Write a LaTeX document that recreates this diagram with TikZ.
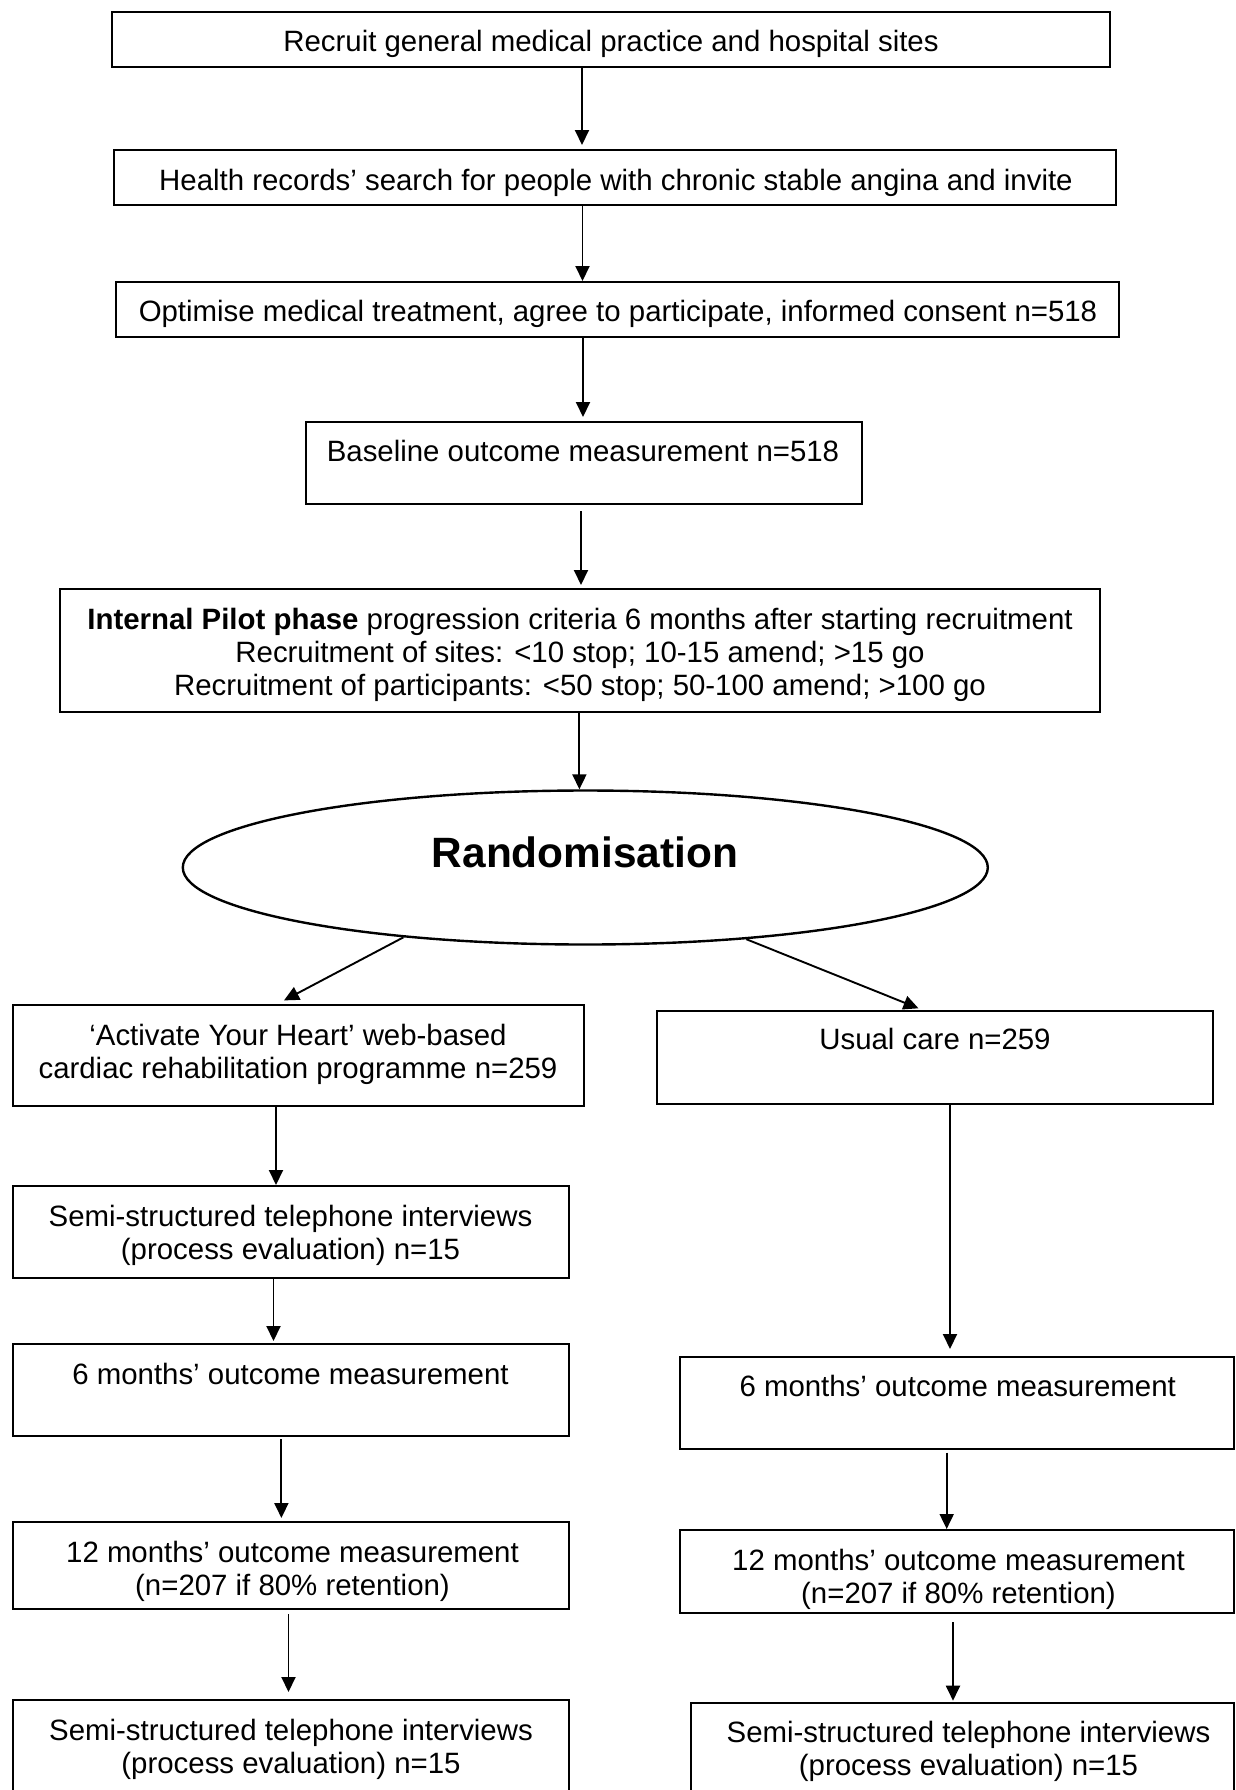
\documentclass[tikz,border=0pt]{standalone}
\usepackage{fontspec}
\setmainfont{Liberation Sans}
\usetikzlibrary{arrows.meta,shapes.geometric,calc}
\begin{document}
\begin{tikzpicture}[x=0.5pt,y=-0.5pt,
  box/.style={draw, line width=1pt, rectangle, inner sep=0pt},
  txt/.style={font=\fontsize{14.7}{16.5}\selectfont, align=center, inner sep=0pt},
  bigtxt/.style={font=\fontsize{21.2}{25}\selectfont\bfseries, inner sep=0pt},
  arr/.style={line width=0.95pt, -{Triangle[length=7.5pt,width=7pt]}},
]
\fill[white] (0,0) rectangle (1236,1790);
\useasboundingbox (0,0) rectangle (1236,1790);
\clip (0,0) rectangle (1236,1790);

% boxes
\node[box, minimum width=499pt, minimum height=27.5pt] (b1) at (611,39.5) {};
\node[box, minimum width=501pt, minimum height=27.5pt] (b2) at (615,177.5) {};
\node[box, minimum width=501.5pt, minimum height=27.5pt] (b3) at (617.5,309.5) {};
\node[box, minimum width=278pt, minimum height=41pt] (b4) at (584,463) {};
\node[box, minimum width=520pt, minimum height=61.5pt] (b5) at (580,650.5) {};
\node[draw, line width=1.2pt, ellipse, inner sep=0pt, minimum width=402.5pt, minimum height=77pt] (ell) at (585.3,867.5) {};
\node[box, minimum width=285.5pt, minimum height=50.5pt] (L1) at (298,1055.5) {};
\node[box, minimum width=278pt, minimum height=46.5pt] (R1) at (934.5,1057.5) {};
\node[box, minimum width=278pt, minimum height=46pt] (L2) at (290.5,1232) {};
\node[box, minimum width=278pt, minimum height=46pt] (L3) at (290.5,1390) {};
\node[box, minimum width=277pt, minimum height=46pt] (R3) at (957,1403) {};
\node[box, minimum width=278pt, minimum height=43.5pt] (L4) at (290.5,1565.5) {};
\node[box, minimum width=277.25pt, minimum height=41.5pt] (R4) at (956.75,1571.5) {};
\node[box, minimum width=278pt, minimum height=60pt] (L5) at (290.5,1760) {};
\node[box, minimum width=271.5pt, minimum height=60pt] (R5) at (962.5,1763) {};

% texts
\node[txt, anchor=base] (t1) at (611,51) {Recruit general medical practice and hospital sites};
\node[txt, anchor=base] (t2) at (616,190) {Health records’ search for people with chronic stable angina and invite};
\node[txt, anchor=base] (t3) at (618,321) {Optimise medical treatment, agree to participate, informed consent n=518};
\node[txt, anchor=base] (t4) at (583,461) {Baseline outcome measurement n=518};
\node[txt] (t5) at (580,655) {\textbf{Internal Pilot phase} progression criteria 6 months after starting recruitment\\Recruitment of sites: <10 stop; 10-15 amend; >15 go\\Recruitment of participants: <50 stop; 50-100 amend; >100 go};
\node[bigtxt, anchor=base] (tR) at (585,867) {Randomisation};
\node[txt] (tL1) at (298,1054) {‘Activate Your Heart’ web-based\\cardiac rehabilitation programme n=259};
\node[txt, anchor=base] (tR1) at (935,1049) {Usual care n=259};
\node[txt] (tL2) at (290.5,1235) {Semi-structured telephone interviews\\(process evaluation) n=15};
\node[txt, anchor=base] (tL3) at (290.5,1384) {6 months’ outcome measurement};
\node[txt, anchor=base] (tR3) at (957.7,1396) {6 months’ outcome measurement};
\node[txt] (tL4) at (292.5,1571) {12 months’ outcome measurement\\(n=207 if 80\% retention)};
\node[txt] (tR4) at (958.5,1579) {12 months’ outcome measurement\\(n=207 if 80\% retention)};
\node[txt] (tL5) at (291,1749) {Semi-structured telephone interviews\\(process evaluation) n=15};
\node[txt] (tR5) at (968.5,1751) {Semi-structured telephone interviews\\(process evaluation) n=15};

% connectors
\draw[arr] (582,0 |- b1.south) -- ($(582,0 |- b2.north)+(0,-4)$);
\draw[arr] (582.5,0 |- b2.south) -- (582.5,0 |- b3.north);
\draw[arr] (583,0 |- b3.south) -- ($(583,0 |- b4.north)+(0,-4)$);
\draw[arr] ($(581,0 |- b4.south)+(0,6)$) -- ($(581,0 |- b5.north)+(0,-3)$);
\draw[arr] (579.4,0 |- b5.south) -- (ell.north -| 579.4,0);
\draw[arr] (ell.201.8) -- ($(L1.north)+(-14,-3.6)$);
\draw[arr] (ell.-24.4) -- ($(R1.north)+(-16,-1.7)$);
\draw[arr] (276,0 |- L1.south) -- (276,0 |- L2.north);
\draw[arr] (273.5,0 |- L2.south) -- ($(273.5,0 |- L3.north)+(0,-2)$);
\draw[arr] (950,0 |- R1.south) -- ($(950,0 |- R3.north)+(0,-7)$);
\draw[arr] ($(281.4,0 |- L3.south)+(0,2)$) -- ($(281.4,0 |- L4.north)+(0,-3)$);
\draw[arr] ($(946.7,0 |- R3.south)+(0,2.7)$) -- (946.7,0 |- R4.north);
\draw[arr] ($(288.5,0 |- L4.south)+(0,4)$) -- ($(288.5,0 |- L5.north)+(0,-7)$);
\draw[arr] ($(953,0 |- R4.south)+(0,8)$) -- ($(953,0 |- R5.north)+(0,-1.3)$);
\end{tikzpicture}
\end{document}
